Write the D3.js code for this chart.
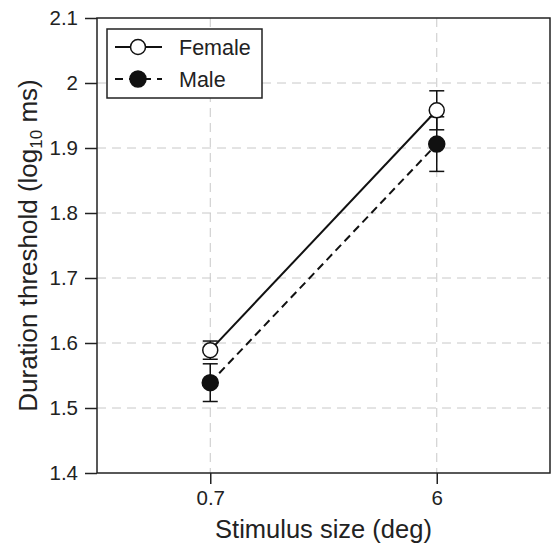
<!DOCTYPE html>
<html>
<head>
<meta charset="utf-8">
<script src="https://cdn.jsdelivr.net/npm/d3@7"></script>
<style>
  body { margin: 0; background: #fff; }
  svg { display: block; font-family: 'Liberation Sans', Arial, sans-serif; }
</style>
</head>
<body>
<svg id="chart"></svg>
<script>
// data
const sizes = ['0.7', '6'];
const femaleMean = [1.589, 1.958];
const femaleErr = [0.014, 0.030];
const maleMean = [1.539, 1.906];
const maleErr = [0.029, 0.042];
const yTicks = [1.4, 1.5, 1.6, 1.7, 1.8, 1.9, 2.0, 2.1];

const margin = {top: 18, right: 2, bottom: 72, left: 97};
const width = 552 - margin.left - margin.right;
const height = 545 - margin.top - margin.bottom;

const root = d3.select('#chart')
  .attr('width', 552)
  .attr('height', 545);

const svg = root.append('g')
  .attr('transform', `translate(${margin.left}, ${margin.top})`);

const x = d3.scalePoint()
  .domain(sizes)
  .range([0, width])
  .padding(0.5);

const y = d3.scaleLinear()
  .domain([1.4, 2.1])
  .range([height, 0]);

// grid
svg.append('g')
  .selectAll('line')
  .data(yTicks.slice(1, -1))
  .enter()
  .append('line')
  .attr('x1', 0).attr('x2', width)
  .attr('y1', d => y(d)).attr('y2', d => y(d))
  .attr('stroke', '#c8c8c8')
  .attr('stroke-dasharray', '9,6');

svg.append('g')
  .selectAll('line')
  .data(sizes)
  .enter()
  .append('line')
  .attr('x1', d => x(d)).attr('x2', d => x(d))
  .attr('y1', 0).attr('y2', height)
  .attr('stroke', '#c8c8c8')
  .attr('stroke-dasharray', '9,6');

// axes
const yAxis = svg.append('g')
  .call(d3.axisLeft(y).tickValues(yTicks).tickSize(12).tickPadding(7)
    .tickFormat(d => +d.toFixed(1)));

const xAxis = svg.append('g')
  .attr('transform', `translate(0, ${height})`)
  .call(d3.axisBottom(x).tickSize(11).tickPadding(6));

[yAxis, xAxis].forEach(ax => {
  ax.select('.domain').remove();
  ax.selectAll('line').attr('stroke', '#222').attr('stroke-width', 1.5);
  ax.selectAll('text')
    .style('font-size', '20.5px')
    .attr('fill', '#222')
    .style('font-family', "'Liberation Sans', Arial, sans-serif");
});

// frame
svg.append('rect')
  .attr('width', width)
  .attr('height', height)
  .attr('fill', 'none')
  .attr('stroke', '#222')
  .attr('stroke-width', 1.5);

// series
const series = [
  {name: 'Female', mean: femaleMean, err: femaleErr, fill: '#fff', dash: null, r: 7.5},
  {name: 'Male', mean: maleMean, err: maleErr, fill: '#111', dash: '8,5', r: 8}
];

const line = d3.line()
  .x((d, i) => x(sizes[i]))
  .y(d => y(d));

series.forEach(s => {
  svg.append('path')
    .datum(s.mean)
    .attr('d', line)
    .attr('fill', 'none')
    .attr('stroke', '#111')
    .attr('stroke-width', 2)
    .attr('stroke-dasharray', s.dash);
});

series.forEach(s => {
  const g = svg.append('g');
  s.mean.forEach((m, i) => {
    const cx = x(sizes[i]);
    const lo = y(m - s.err[i]);
    const hi = y(m + s.err[i]);
    g.append('line')
      .attr('x1', cx).attr('x2', cx)
      .attr('y1', lo).attr('y2', hi)
      .attr('stroke', '#111').attr('stroke-width', 1.5);
    [lo, hi].forEach(v => {
      g.append('line')
        .attr('x1', cx - 7.5).attr('x2', cx + 7.5)
        .attr('y1', v).attr('y2', v)
        .attr('stroke', '#111').attr('stroke-width', 1.5);
    });
  });
});

series.forEach(s => {
  svg.append('g')
    .selectAll('circle')
    .data(s.mean)
    .enter()
    .append('circle')
    .attr('cx', (d, i) => x(sizes[i]))
    .attr('cy', d => y(d))
    .attr('r', s.r)
    .attr('fill', s.fill)
    .attr('stroke', '#111')
    .attr('stroke-width', 1.5);
});

// legend
const legend = root.append('g')
  .attr('transform', 'translate(107, 29)');

legend.append('rect')
  .attr('width', 155)
  .attr('height', 69)
  .attr('fill', '#fff')
  .attr('stroke', '#222')
  .attr('stroke-width', 1.5);

series.forEach((s, i) => {
  const ly = 18 + i * 32;
  legend.append('line')
    .attr('x1', 8).attr('x2', 55)
    .attr('y1', ly).attr('y2', ly)
    .attr('stroke', '#111')
    .attr('stroke-width', 2)
    .attr('stroke-dasharray', s.dash ? '8,6' : null);
  legend.append('circle')
    .attr('cx', 31).attr('cy', ly)
    .attr('r', s.r)
    .attr('fill', s.fill)
    .attr('stroke', '#111')
    .attr('stroke-width', 1.5);
  legend.append('text')
    .attr('x', 72).attr('y', ly + 7.5)
    .attr('fill', '#222')
    .style('font-size', '21.5px')
    .text(s.name);
});

// axis titles
root.append('text')
  .attr('x', margin.left + width / 2)
  .attr('y', 538)
  .attr('text-anchor', 'middle')
  .attr('fill', '#222')
  .style('font-size', '25.5px')
  .text('Stimulus size (deg)');

const yTitle = root.append('text')
  .attr('transform', `translate(37, ${margin.top + height / 2}) rotate(-90)`)
  .attr('text-anchor', 'middle')
  .attr('fill', '#222')
  .style('font-size', '26px');

yTitle.append('tspan').text('Duration threshold (log');
yTitle.append('tspan').attr('dy', 5).style('font-size', '17px').text('10');
yTitle.append('tspan').attr('dy', -5).text(' ms)');
</script>
</body>
</html>
